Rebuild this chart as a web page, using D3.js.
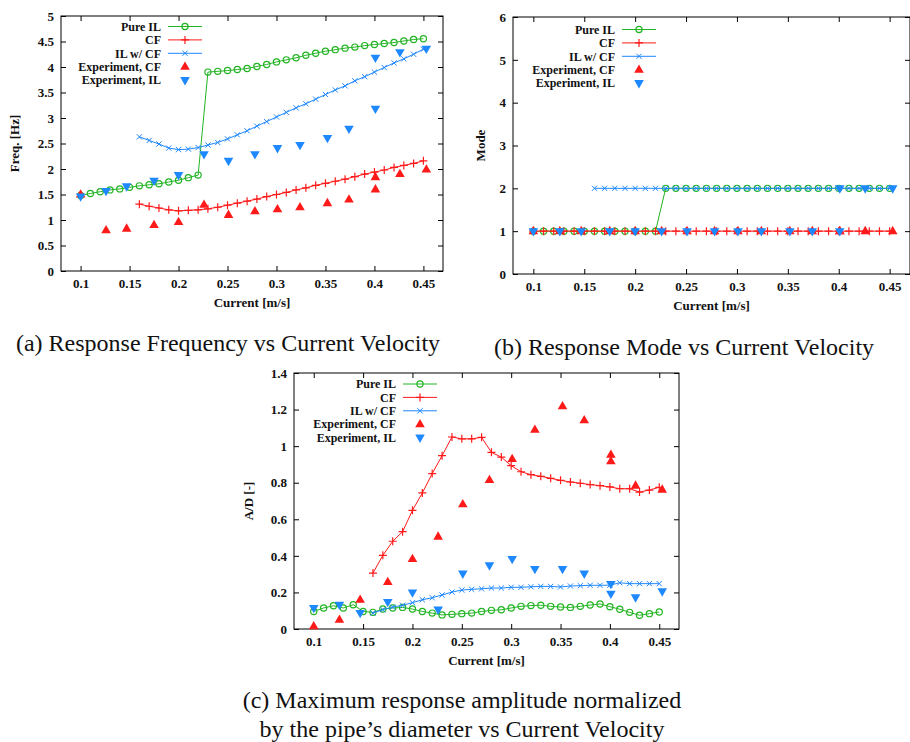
<!DOCTYPE html>
<html>
<head>
<meta charset="utf-8">
<script src="https://cdn.jsdelivr.net/npm/d3@7/dist/d3.min.js"></script>
<style>
  html, body { margin: 0; padding: 0; background: #fff; }
  svg { display: block; }
  .tick text { font-family: "Liberation Serif", "Times New Roman", serif; font-weight: bold; font-size: 13px; fill: #111; }
  .axis-title { font-family: "Liberation Serif", "Times New Roman", serif; font-weight: bold; font-size: 13px; fill: #111; }
  .legend text { font-family: "Liberation Serif", "Times New Roman", serif; font-weight: bold; font-size: 12px; fill: #111; }
  .caption { font-family: "Liberation Serif", "Times New Roman", serif; font-size: 24px; fill: #111; }
</style>
</head>
<body>
<svg id="fig" width="910" height="742"></svg>
<script>
// Current velocities [m/s]
const currentFull = [0.10, 0.11, 0.12, 0.13, 0.14, 0.15, 0.16, 0.17, 0.18, 0.19, 0.20, 0.21,
  0.22, 0.23, 0.24, 0.25, 0.26, 0.27, 0.28, 0.29, 0.30, 0.31, 0.32, 0.33, 0.34, 0.35,
  0.36, 0.37, 0.38, 0.39, 0.40, 0.41, 0.42, 0.43, 0.44, 0.45];
const currentCoupled = [0.16, 0.17, 0.18, 0.19, 0.20, 0.21, 0.22, 0.23, 0.24, 0.25, 0.26,
  0.27, 0.28, 0.29, 0.30, 0.31, 0.32, 0.33, 0.34, 0.35, 0.36, 0.37, 0.38, 0.39, 0.40,
  0.41, 0.42, 0.43, 0.44, 0.45];
const currentExp = [0.100, 0.126, 0.147, 0.175, 0.200, 0.226, 0.251, 0.278, 0.301, 0.324,
  0.352, 0.374, 0.401, 0.401, 0.426, 0.453];

// (a) Response frequency [Hz]
const freqPureIL = [1.48, 1.52, 1.555, 1.59, 1.61, 1.64, 1.67, 1.69, 1.71, 1.745, 1.78, 1.83,
  1.88, 3.90, 3.915, 3.93, 3.95, 3.97, 4.01, 4.05, 4.10, 4.14, 4.18, 4.23, 4.27, 4.31,
  4.34, 4.37, 4.39, 4.42, 4.44, 4.46, 4.48, 4.51, 4.54, 4.555];
const freqCF = [1.31, 1.27, 1.235, 1.20, 1.18, 1.19, 1.20, 1.22, 1.25, 1.29, 1.33, 1.37, 1.41,
  1.46, 1.50, 1.54, 1.59, 1.63, 1.68, 1.72, 1.76, 1.80, 1.85, 1.90, 1.94, 1.98, 2.03,
  2.07, 2.11, 2.16];
const freqILwCF = [2.63, 2.56, 2.49, 2.41, 2.38, 2.39, 2.42, 2.47, 2.52, 2.59, 2.67, 2.75, 2.84,
  2.93, 3.02, 3.11, 3.20, 3.28, 3.37, 3.46, 3.55, 3.63, 3.73, 3.81, 3.90, 3.99, 4.08,
  4.16, 4.25, 4.35];
const freqExpCF = [1.50, 0.80, 0.83, 0.90, 0.96, 1.30, 1.10, 1.17, 1.21, 1.25, 1.33, 1.40,
  1.84, 1.60, 1.90, 1.99];
const freqExpIL = [1.46, 1.57, 1.66, 1.77, 1.88, 2.29, 2.16, 2.29, 2.41, 2.47, 2.61, 2.79,
  3.18, 4.18, 4.29, 4.36];

// (b) Response mode
const modePureIL = [1, 1, 1, 1, 1, 1, 1, 1, 1, 1, 1, 1, 1, 2, 2, 2, 2, 2, 2, 2, 2, 2, 2, 2,
  2, 2, 2, 2, 2, 2, 2, 2, 2, 2, 2, 2];
const modeCF = [1, 1, 1, 1, 1, 1, 1, 1, 1, 1, 1, 1, 1, 1, 1, 1, 1, 1, 1, 1, 1, 1, 1, 1,
  1, 1, 1, 1, 1, 1, 1, 1, 1, 1, 1, 1];
const modeILwCF = [2, 2, 2, 2, 2, 2, 2, 2, 2, 2, 2, 2, 2, 2, 2, 2, 2, 2, 2, 2, 2, 2, 2, 2,
  2, 2, 2, 2, 2, 2];
const modeExpCF = [1, 1, 1, 1, 1, 1, 1, 1, 1, 1, 1, 1, 1, 1, 1, 1];
const modeExpIL = [1, 1, 1, 1, 1, 1, 1, 1, 1, 1, 1, 1, 1, 2, 2, 2];

// (c) Maximum amplitude A/D [-]
const ampPureIL = [0.096, 0.115, 0.127, 0.115, 0.133, 0.096, 0.091, 0.109, 0.115, 0.118,
  0.109, 0.096, 0.087, 0.077, 0.080, 0.084, 0.087, 0.096, 0.102, 0.105, 0.115, 0.124,
  0.128, 0.130, 0.124, 0.120, 0.118, 0.124, 0.131, 0.137, 0.122, 0.108, 0.091, 0.075,
  0.084, 0.093];
const ampCF = [0.306, 0.403, 0.48, 0.532, 0.649, 0.744, 0.85, 0.948, 1.05, 1.04, 1.04, 1.048,
  0.966, 0.94, 0.893, 0.86, 0.844, 0.835, 0.824, 0.813, 0.804, 0.797, 0.79, 0.784, 0.777,
  0.767, 0.767, 0.749, 0.76, 0.775];
const ampILwCF = [0.0875, 0.106, 0.12, 0.13, 0.144, 0.16, 0.171, 0.186, 0.202, 0.213, 0.217,
  0.22, 0.224, 0.224, 0.228, 0.228, 0.231, 0.233, 0.233, 0.23, 0.235, 0.237, 0.239, 0.239,
  0.24, 0.253, 0.248, 0.248, 0.248, 0.248];
const ampExpCF = [0.015, 0.05, 0.16, 0.257, 0.383, 0.505, 0.682, 0.815, 0.93, 1.09, 1.218,
  1.141, 0.953, 0.917, 0.784, 0.762];
const ampExpIL = [0.115, 0.133, 0.0875, 0.148, 0.2, 0.106, 0.303, 0.348, 0.383, 0.328, 0.328,
  0.303, 0.193, 0.246, 0.173, 0.206];

const xTicks = [0.1, 0.15, 0.2, 0.25, 0.3, 0.35, 0.4, 0.45];
const freqTicks = [0, 0.5, 1, 1.5, 2, 2.5, 3, 3.5, 4, 4.5, 5];
const modeTicks = [0, 1, 2, 3, 4, 5, 6];
const ampTicks = [0, 0.2, 0.4, 0.6, 0.8, 1, 1.2, 1.4];

const legendNames = ["Pure IL", "CF", "IL w/ CF", "Experiment, CF", "Experiment, IL"];
const COLORS = { green: "#22b422", red: "#ff1a1a", blue: "#1e88ff" };

const svg = d3.select("#fig");
const fmt = d3.format("~g");

// marker shapes
function drawMarker(g, kind, color, cx, cy) {
  if (kind === "circle") {
    g.append("circle").attr("cx", cx).attr("cy", cy).attr("r", 3.1)
      .attr("fill", "none").attr("stroke", color).attr("stroke-width", 1.2);
  } else if (kind === "plus") {
    g.append("path").attr("d", `M${cx - 4},${cy}H${cx + 4}M${cx},${cy - 4}V${cy + 4}`)
      .attr("stroke", color).attr("stroke-width", 1.2).attr("fill", "none");
  } else if (kind === "cross") {
    g.append("path").attr("d", `M${cx - 2.6},${cy - 2.6}L${cx + 2.6},${cy + 2.6}M${cx - 2.6},${cy + 2.6}L${cx + 2.6},${cy - 2.6}`)
      .attr("stroke", color).attr("stroke-width", 1).attr("fill", "none");
  } else if (kind === "up") {
    g.append("path").attr("d", `M${cx},${cy - 5.3}L${cx + 4.8},${cy + 3}L${cx - 4.8},${cy + 3}Z`)
      .attr("fill", color);
  } else if (kind === "down") {
    g.append("path").attr("d", `M${cx},${cy + 5.3}L${cx + 4.8},${cy - 3}L${cx - 4.8},${cy - 3}Z`)
      .attr("fill", color);
  }
}

function drawPanel(p) {
  const x = d3.scaleLinear().domain([0.08, 0.47]).range([p.left, p.right]);
  const y = d3.scaleLinear().domain(p.yDomain).range([p.bottom, p.top]);
  const g = svg.append("g");

  // axes with inward ticks, mirrored on top/right
  g.append("g").attr("transform", `translate(0,${p.bottom})`)
    .call(d3.axisBottom(x).tickValues(xTicks).tickFormat(fmt).tickSizeInner(-5).tickSizeOuter(0).tickPadding(8));
  g.append("g").attr("transform", `translate(0,${p.top})`)
    .call(d3.axisTop(x).tickValues(xTicks).tickFormat("").tickSizeInner(-5).tickSizeOuter(0));
  g.append("g").attr("transform", `translate(${p.left},0)`)
    .call(d3.axisLeft(y).tickValues(p.yTicks).tickFormat(fmt).tickSizeInner(-5).tickSizeOuter(0).tickPadding(7));
  g.append("g").attr("transform", `translate(${p.right},0)`)
    .call(d3.axisRight(y).tickValues(p.yTicks).tickFormat("").tickSizeInner(-5).tickSizeOuter(0));
  g.selectAll(".domain").remove();
  g.selectAll(".tick line").attr("stroke", "#000").attr("stroke-width", 1);
  g.append("rect").attr("x", p.left).attr("y", p.top)
    .attr("width", p.right - p.left).attr("height", p.bottom - p.top)
    .attr("fill", "none").attr("stroke", "#000").attr("stroke-width", 1);

  // axis titles
  g.append("text").attr("class", "axis-title").attr("text-anchor", "middle")
    .attr("x", (p.left + p.right) / 2).attr("y", p.bottom + 36).text("Current [m/s]");
  g.append("text").attr("class", "axis-title").attr("text-anchor", "middle")
    .attr("transform", `translate(${p.yTitleX},${(p.top + p.bottom) / 2}) rotate(-90)`)
    .text(p.yTitle);

  const series = [
    { xs: p.xPure, ys: p.pure, color: COLORS.green, marker: "circle", line: true },
    { xs: p.xCF, ys: p.cf, color: COLORS.red, marker: "plus", line: true },
    { xs: currentCoupled, ys: p.ilcf, color: COLORS.blue, marker: "cross", line: true },
    { xs: currentExp, ys: p.expCF, color: COLORS.red, marker: "up", line: false },
    { xs: currentExp, ys: p.expIL, color: COLORS.blue, marker: "down", line: false }
  ];

  const lineGen = d3.line().x(d => x(d[0])).y(d => y(d[1]));
  series.forEach(s => {
    const pts = s.xs.map((v, i) => [v, s.ys[i]]);
    const sg = g.append("g");
    if (s.line) {
      sg.append("path").attr("d", lineGen(pts)).attr("fill", "none")
        .attr("stroke", s.color).attr("stroke-width", 1);
    }
    pts.forEach(d => drawMarker(sg, s.marker, s.color, x(d[0]), y(d[1])));
  });

  // legend
  const lg = g.append("g").attr("class", "legend");
  series.forEach((s, i) => {
    const ry = p.legendTop + i * 13.4;
    lg.append("text").attr("x", p.legendX).attr("y", ry + 4.2)
      .attr("text-anchor", "end").text(legendNames[i]);
    if (s.line) {
      lg.append("line").attr("x1", p.legendX + 7).attr("x2", p.legendX + 41)
        .attr("y1", ry).attr("y2", ry).attr("stroke", s.color).attr("stroke-width", 1);
    }
    drawMarker(lg, s.marker, s.color, p.legendX + 24, ry);
  });
}

drawPanel({
  left: 61, right: 443, top: 16, bottom: 271,
  yDomain: [0, 5], yTicks: freqTicks, yTitle: "Freq. [Hz]", yTitleX: 19,
  xPure: currentFull, pure: freqPureIL, xCF: currentCoupled, cf: freqCF, ilcf: freqILwCF,
  expCF: freqExpCF, expIL: freqExpIL, legendX: 161, legendTop: 26.5
});

drawPanel({
  left: 513, right: 910, top: 17, bottom: 274,
  yDomain: [0, 6], yTicks: modeTicks, yTitle: "Mode", yTitleX: 485,
  xPure: currentFull, pure: modePureIL, xCF: currentFull, cf: modeCF, ilcf: modeILwCF,
  expCF: modeExpCF, expIL: modeExpIL, legendX: 615, legendTop: 29.5
});

drawPanel({
  left: 294, right: 679, top: 373, bottom: 629,
  yDomain: [0, 1.4], yTicks: ampTicks, yTitle: "A/D [-]", yTitleX: 253,
  xPure: currentFull, pure: ampPureIL, xCF: currentCoupled, cf: ampCF, ilcf: ampILwCF,
  expCF: ampExpCF, expIL: ampExpIL, legendX: 396, legendTop: 384
});

// sub-figure captions
const captions = [
  { x: 228, y: 351, t: "(a) Response Frequency vs Current Velocity" },
  { x: 684, y: 355, t: "(b) Response Mode vs Current Velocity" },
  { x: 462, y: 708, t: "(c) Maximum response amplitude normalized" },
  { x: 462, y: 737, t: "by the pipe\u2019s diameter vs Current Velocity" }
];
svg.selectAll("text.caption").data(captions).join("text")
  .attr("class", "caption").attr("text-anchor", "middle")
  .attr("x", d => d.x).attr("y", d => d.y).text(d => d.t);
</script>
</body>
</html>
